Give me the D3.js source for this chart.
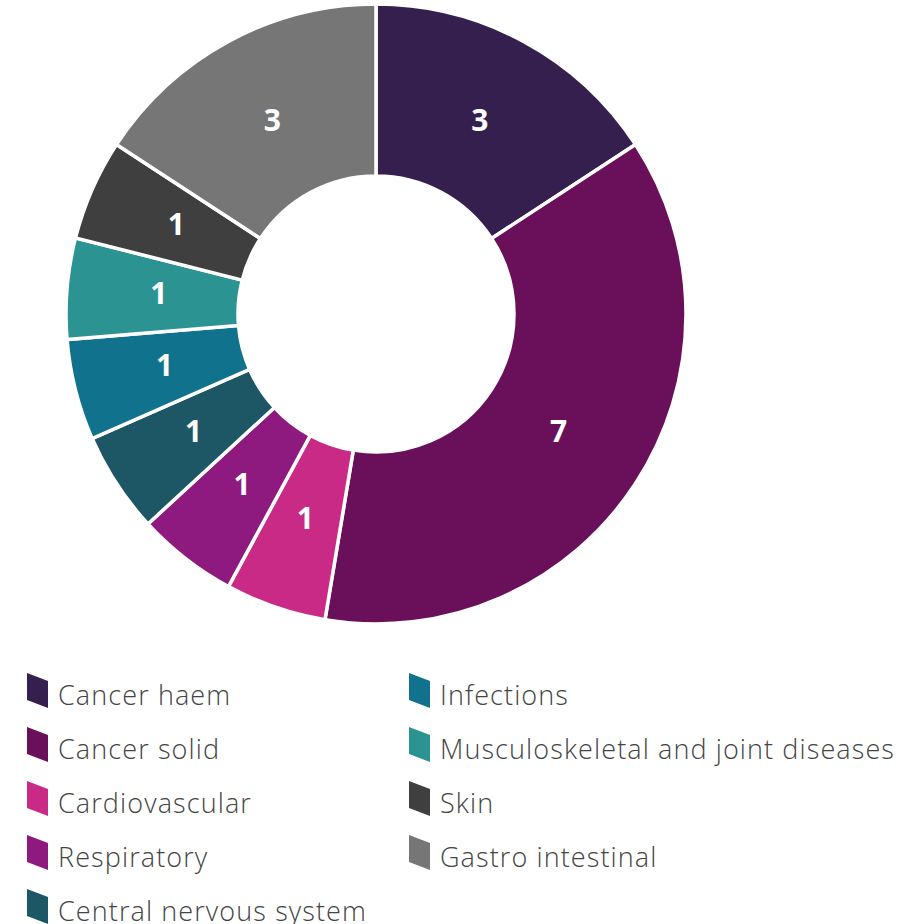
<!DOCTYPE html>
<html>
<head>
<meta charset="utf-8">
<script src="https://cdnjs.cloudflare.com/ajax/libs/d3/7.8.5/d3.min.js"></script>
<style>
  body { margin: 0; background: #fff; }
  svg { display: block; }
</style>
</head>
<body>
<svg id="chart" width="920" height="924"></svg>
<script>
const categories = ['Cancer haem', 'Cancer solid', 'Cardiovascular', 'Respiratory', 'Central nervous system',
  'Infections', 'Musculoskeletal and joint diseases', 'Skin', 'Gastro intestinal'];
const counts = [3, 7, 1, 1, 1, 1, 1, 1, 3];
const colors = ['#341f4e', '#6a0f5a', '#c92a86', '#8e1a80', '#1d5766', '#10728c', '#2c9393', '#3f3f3f', '#767676'];

const data = categories.map((c, i) => ({ name: c, value: counts[i] }));

const svg = d3.select('#chart');
const cx = 376, cy = 314;
const radius = 310;
const innerRadius = 138;

const color = d3.scaleOrdinal().domain(categories).range(colors);

const pie = d3.pie().value(d => d.value).sort(null);
const arc = d3.arc().innerRadius(innerRadius).outerRadius(radius);
const labelArc = d3.arc().innerRadius(innerRadius - 6).outerRadius(radius - 6);

const g = svg.append('g').attr('transform', `translate(${cx},${cy})`);

const arcs = g.selectAll('.arc')
  .data(pie(data))
  .enter()
  .append('g')
  .attr('class', 'arc');

arcs.append('path')
  .attr('d', arc)
  .attr('fill', d => color(d.data.name))
  .attr('stroke', '#fff')
  .attr('stroke-width', 3.5)
  .attr('stroke-linejoin', 'miter');

arcs.append('text')
  .attr('transform', d => `translate(${labelArc.centroid(d)})`)
  .attr('text-anchor', 'middle')
  .attr('dy', '-0.1em')
  .attr('dominant-baseline', 'central')
  .style('font-family', '"Open Sans", Lato, sans-serif')
  .style('font-weight', 700)
  .style('font-size', '30px')
  .style('fill', '#fff')
  .text(d => d.data.value);

// legend: two columns, first has five rows
const legend = svg.append('g');
const rowY = d3.scaleLinear().domain([0, 1]).range([694, 748]);
const colX = [27, 409];

categories.forEach((c, i) => {
  const col = i < 5 ? 0 : 1;
  const row = i < 5 ? i : i - 5;
  const y = rowY(row);
  const x = colX[col];
  const item = legend.append('g').attr('transform', `translate(${x},${y})`);
  item.append('path')
    .attr('d', 'M0,-21 L21,-13 L21,14 L0,6 Z')
    .attr('fill', color(c));
  item.append('text')
    .attr('x', 31)
    .attr('y', 0)
    .attr('dominant-baseline', 'central')
    .style('font-family', '"Open Sans", Lato, sans-serif')
    .style('font-weight', 300)
    .style('font-size', '27px')
    .style('letter-spacing', '1.1px')
    .style('fill', '#444')
    .text(c);
});
</script>
</body>
</html>
